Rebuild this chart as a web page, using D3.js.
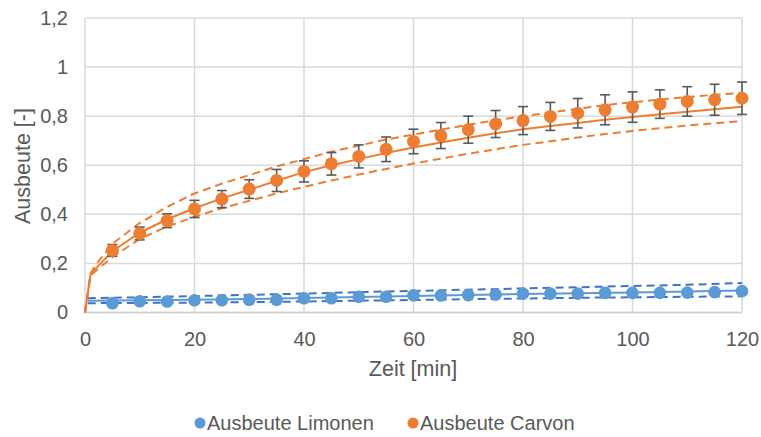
<!DOCTYPE html>
<html>
<head>
<meta charset="utf-8">
<script src="https://cdn.jsdelivr.net/npm/d3@7"></script>
<style>
  body { margin: 0; background: #fff; }
  text { font-family: "Liberation Sans", Arial, sans-serif; fill: #595959; }
</style>
</head>
<body>
<div id="chart"></div>
<script>
// measured points (every 5 min)
var zeit = [5, 10, 15, 20, 25, 30, 35, 40, 45, 50, 55, 60, 65, 70, 75, 80, 85, 90, 95, 100, 105, 110, 115, 120];
var limonen = [0.038, 0.046, 0.045, 0.05, 0.05, 0.052, 0.052, 0.058, 0.058, 0.064, 0.064, 0.07, 0.069, 0.071, 0.073, 0.077, 0.077, 0.077, 0.08, 0.08, 0.08, 0.081, 0.083, 0.087];
var carvon = [0.253, 0.322, 0.374, 0.422, 0.462, 0.503, 0.538, 0.575, 0.606, 0.636, 0.665, 0.697, 0.721, 0.745, 0.768, 0.782, 0.799, 0.812, 0.826, 0.837, 0.849, 0.86, 0.867, 0.873];
var carvonErr = [0.024, 0.026, 0.028, 0.035, 0.035, 0.038, 0.045, 0.043, 0.046, 0.047, 0.05, 0.05, 0.053, 0.055, 0.055, 0.057, 0.057, 0.06, 0.061, 0.062, 0.058, 0.06, 0.063, 0.066];

// model curves for carvon
var modelZeit = [0, 1, 2, 5, 10, 15, 20, 25, 30, 35, 40, 45, 50, 55, 60, 65, 70, 75, 80, 85, 90, 95, 100, 105, 110, 115, 120];
var carvonFit = [0, 0.155, 0.18, 0.25, 0.325, 0.38, 0.425, 0.465, 0.5, 0.537, 0.572, 0.6, 0.625, 0.65, 0.672, 0.693, 0.712, 0.73, 0.747, 0.76, 0.772, 0.785, 0.797, 0.808, 0.818, 0.828, 0.838];
var carvonUp = [0, 0.16, 0.195, 0.28, 0.365, 0.43, 0.485, 0.525, 0.56, 0.595, 0.625, 0.655, 0.68, 0.705, 0.725, 0.745, 0.765, 0.783, 0.8, 0.815, 0.83, 0.845, 0.857, 0.868, 0.878, 0.887, 0.895];
var carvonLow = [0, 0.15, 0.17, 0.225, 0.3, 0.35, 0.39, 0.425, 0.455, 0.485, 0.512, 0.538, 0.562, 0.585, 0.607, 0.627, 0.647, 0.665, 0.683, 0.698, 0.713, 0.727, 0.74, 0.751, 0.762, 0.771, 0.78];

// model curves for limonen
var limZeit = [0.5, 10, 20, 30, 40, 50, 60, 70, 80, 90, 100, 110, 120];
var limonenFit = [0.048, 0.05, 0.052, 0.055, 0.059, 0.063, 0.067, 0.071, 0.075, 0.078, 0.082, 0.086, 0.09];
var limonenUp = [0.058, 0.062, 0.067, 0.072, 0.077, 0.083, 0.088, 0.093, 0.098, 0.103, 0.108, 0.113, 0.12];
var limonenLow = [0.038, 0.039, 0.04, 0.042, 0.045, 0.048, 0.051, 0.054, 0.057, 0.06, 0.062, 0.064, 0.066];

var xTicks = [0, 20, 40, 60, 80, 100, 120];
var yTicks = [0, 0.2, 0.4, 0.6, 0.8, 1, 1.2];

var width = 761, height = 437;
var blue = "#5b9bd5", blueDark = "#4472c4", orange = "#ed7d31", grid = "#d9d9d9";

var svg = d3.select("#chart").append("svg")
	.attr("width", width).attr("height", height);

var x = d3.scaleLinear().domain([0, 120]).range([85, 742]);
var y = d3.scaleLinear().domain([0, 1.2]).range([312.5, 18]);
var fmt = function (d) { return String(d).replace(".", ","); };

// grid
svg.append("g").selectAll("line").data(yTicks).enter().append("line")
	.attr("x1", x(0)).attr("x2", x(120))
	.attr("y1", d => y(d)).attr("y2", d => y(d))
	.style("stroke", grid).style("stroke-width", 1.5);
svg.append("g").selectAll("line").data(xTicks).enter().append("line")
	.attr("x1", d => x(d)).attr("x2", d => x(d))
	.attr("y1", y(0)).attr("y2", y(1.2))
	.style("stroke", grid).style("stroke-width", 1.5);

// axes (labels only)
var xAxis = svg.append("g").attr("transform", "translate(0," + y(0) + ")")
	.call(d3.axisBottom(x).tickValues(xTicks).tickSize(0).tickPadding(19).tickFormat(d3.format("d")));
var yAxis = svg.append("g").attr("transform", "translate(" + x(0) + ",0)")
	.call(d3.axisLeft(y).tickValues(yTicks).tickSize(0).tickPadding(17).tickFormat(fmt));
[xAxis, yAxis].forEach(function (a) {
	a.select(".domain").remove();
	a.selectAll("text").style("font-size", "20px").style("fill", "#595959")
		.style("font-family", "Liberation Sans, Arial, sans-serif");
});
svg.append("line").attr("x1", x(0)).attr("x2", x(120)).attr("y1", y(0)).attr("y2", y(0))
	.style("stroke", "#d0d0d0").style("stroke-width", 1.5);

svg.append("text").attr("x", 413).attr("y", 376).attr("text-anchor", "middle")
	.style("font-size", "21.5px").text("Zeit [min]");
svg.append("text").attr("transform", "translate(30,166) rotate(-90)").attr("text-anchor", "middle")
	.style("font-size", "21.5px").text("Ausbeute [-]");

function drawLine(xs, ys, color, dash) {
	var pts = xs.map((t, i) => [t, ys[i]]);
	svg.append("path").datum(pts)
		.attr("d", d3.line().x(d => x(d[0])).y(d => y(d[1])))
		.style("fill", "none").style("stroke", color).style("stroke-width", 2)
		.style("stroke-dasharray", dash ? "8,5" : null);
}

// limonen
drawLine(limZeit, limonenUp, blueDark, true);
drawLine(limZeit, limonenLow, blueDark, true);
drawLine(limZeit, limonenFit, blue, false);
svg.append("g").selectAll("circle").data(zeit).enter().append("circle")
	.attr("cx", d => x(d)).attr("cy", (d, i) => y(limonen[i])).attr("r", 6.3)
	.style("fill", blue);

// carvon
drawLine(modelZeit, carvonUp, orange, true);
drawLine(modelZeit, carvonLow, orange, true);
drawLine(modelZeit, carvonFit, orange, false);

var eb = svg.append("g").style("stroke", "#595959").style("stroke-width", 1.6);
zeit.forEach(function (t, i) {
	var top = y(carvon[i] + carvonErr[i]), bot = y(carvon[i] - carvonErr[i]);
	eb.append("line").attr("x1", x(t)).attr("x2", x(t)).attr("y1", top).attr("y2", bot);
	eb.append("line").attr("x1", x(t) - 5).attr("x2", x(t) + 5).attr("y1", top).attr("y2", top);
	eb.append("line").attr("x1", x(t) - 5).attr("x2", x(t) + 5).attr("y1", bot).attr("y2", bot);
});
svg.append("g").selectAll("circle").data(zeit).enter().append("circle")
	.attr("cx", d => x(d)).attr("cy", (d, i) => y(carvon[i])).attr("r", 6.5)
	.style("fill", orange);

// legend
var legend = [["Ausbeute Limonen", blue, 200], ["Ausbeute Carvon", orange, 413]];
legend.forEach(function (l) {
	svg.append("circle").attr("cx", l[2]).attr("cy", 423).attr("r", 5.5).style("fill", l[1]);
	svg.append("text").attr("x", l[2] + 7).attr("y", 430).style("font-size", "20px").text(l[0]);
});
</script>
</body>
</html>
